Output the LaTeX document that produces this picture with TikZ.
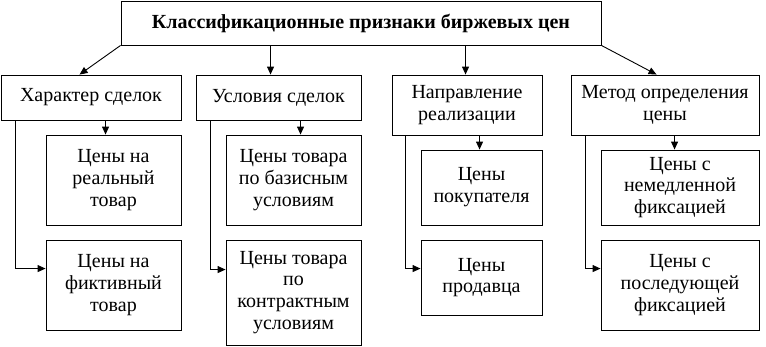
\documentclass[tikz,border=0pt]{standalone}
\usepackage{fontspec}
\setmainfont{Liberation Serif}
\usetikzlibrary{arrows.meta}
\begin{document}
\begin{tikzpicture}[x=1pt,y=-1pt,
  box/.style={draw,line width=0.9pt,align=center,inner sep=0pt,font=\fontsize{20}{21.8}\selectfont},
  arr/.style={line width=0.9pt,-{Triangle[length=8pt,width=7pt]}},
  lnk/.style={line width=0.9pt}]
\useasboundingbox (0,0) rectangle (766,346);
\node[box,minimum width=480pt,minimum height=44pt,font=\fontsize{20}{21.8}\selectfont\bfseries] (top) at (361,23) {Классификационные признаки биржевых цен};
\node[box,minimum width=180pt,minimum height=45pt] (b1) at (91,97.5) {Характер сделок};
\node[box,minimum width=165pt,minimum height=45pt] (b2) at (278.5,97.5) {Условия сделок};
\node[box,minimum width=150pt,minimum height=60pt] (b3) at (467,105) {Направление\\реализации};
\node[box,minimum width=188pt,minimum height=60pt] (b4) at (665,105) {Метод определения\\цены};
\node[box,minimum width=135pt,minimum height=90pt] (c1a) at (113.5,180) {Цены на\\реальный\\товар};
\node[box,minimum width=135pt,minimum height=90pt] (c1b) at (113.5,285) {Цены на\\фиктивный\\товар};
\node[box,minimum width=135pt,minimum height=90pt] (c2a) at (293.5,180) {Цены товара\\по базисным\\условиям};
\node[box,minimum width=135pt,minimum height=105pt] (c2b) at (293.5,292.5) {Цены товара\\по\\контрактным\\условиям};
\node[box,minimum width=121pt,minimum height=75pt] (c3a) at (481.5,187.5) {Цены\\покупателя};
\node[box,minimum width=121pt,minimum height=75pt] (c3b) at (481.5,277.5) {Цены\\продавца};
\node[box,minimum width=158pt,minimum height=75pt] (c4a) at (680,187.5) {Цены с\\немедленной\\фиксацией};
\node[box,minimum width=158pt,minimum height=90pt] (c4b) at (680,285) {Цены с\\последующей\\фиксацией};
% top to level 1
\draw[arr] (top.south west) -- ([xshift=79pt]b1.north west);
\draw[arr] ([xshift=75pt]b2.north west |- top.south) -- ([xshift=75pt]b2.north west);
\draw[arr] ([xshift=74pt]b3.north west |- top.south) -- ([xshift=74pt]b3.north west);
\draw[arr] (top.south east) -- ([xshift=86pt]b4.north west);
% column 1
\draw[arr] ([xshift=60pt]c1a.north west |- b1.south) -- ([xshift=60pt]c1a.north west);
\draw[arr] ([xshift=15pt]b1.south west) |- ([yshift=-29pt]c1b.north west);
% column 2
\draw[arr] ([xshift=75pt]c2a.north west |- b2.south) -- ([xshift=75pt]c2a.north west);
\draw[arr] ([xshift=15pt]b2.south west) |- ([yshift=-30pt]c2b.north west);
% column 3
\draw[arr] ([xshift=59pt]c3a.north west |- b3.south) -- ([xshift=59pt]c3a.north west);
\draw[arr] ([xshift=14pt]b3.south west) |- ([yshift=-29pt]c3b.north west);
% column 4
\draw[arr] ([xshift=74pt]c4a.north west |- b4.south) -- ([xshift=74pt]c4a.north west);
\draw[arr] ([xshift=15pt]b4.south west) |- ([yshift=-29pt]c4b.north west);
\end{tikzpicture}
\end{document}
